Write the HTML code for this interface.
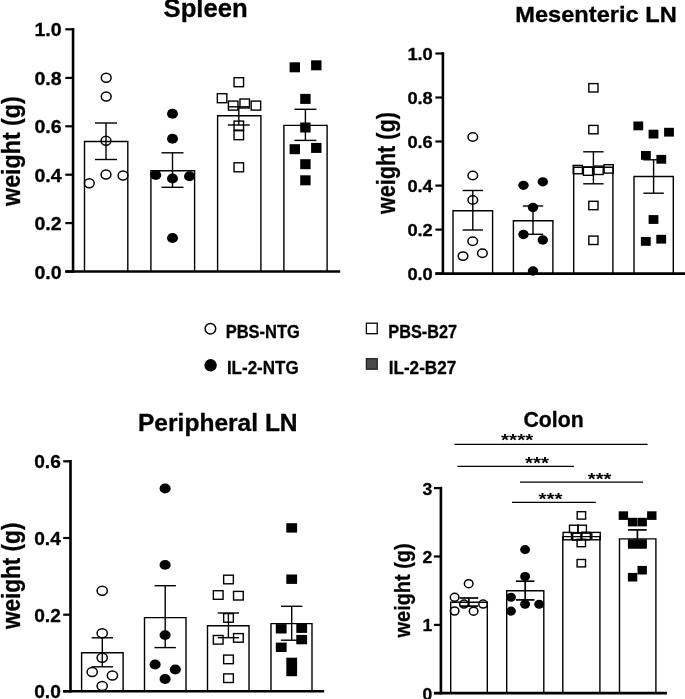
<!DOCTYPE html>
<html><head><meta charset="utf-8"><title>Organ weights</title>
<style>
html,body{margin:0;padding:0;background:#fff;}
body{width:685px;height:699px;overflow:hidden;font-family:"Liberation Sans",sans-serif;}
svg{display:block;will-change:transform;opacity:0.999;}
</style></head><body>
<svg width="685" height="699" viewBox="0 0 685 699">
<rect x="0" y="0" width="685" height="699" fill="#fff"/>
<path d="M84.5,271.5 V141.5 H127.8 V271.5" fill="#fff" stroke="#000" stroke-width="1.4"/>
<path d="M150.9,271.5 V170.8 H194.6 V271.5" fill="#fff" stroke="#000" stroke-width="1.4"/>
<path d="M217.6,271.5 V115.8 H260.9 V271.5" fill="#fff" stroke="#000" stroke-width="1.4"/>
<path d="M283.9,271.5 V125.4 H327.1 V271.5" fill="#fff" stroke="#000" stroke-width="1.4"/>
<line x1="106" y1="123" x2="106" y2="159.5" stroke="#000" stroke-width="1.4" stroke-linecap="butt"/>
<line x1="95" y1="123" x2="117" y2="123" stroke="#000" stroke-width="1.4" stroke-linecap="butt"/>
<line x1="95" y1="159.5" x2="117" y2="159.5" stroke="#000" stroke-width="1.4" stroke-linecap="butt"/>
<line x1="172.5" y1="152.8" x2="172.5" y2="187.3" stroke="#000" stroke-width="1.4" stroke-linecap="butt"/>
<line x1="161.5" y1="152.8" x2="183.5" y2="152.8" stroke="#000" stroke-width="1.4" stroke-linecap="butt"/>
<line x1="161.5" y1="187.3" x2="183.5" y2="187.3" stroke="#000" stroke-width="1.4" stroke-linecap="butt"/>
<line x1="238.8" y1="106.8" x2="238.8" y2="125" stroke="#000" stroke-width="1.4" stroke-linecap="butt"/>
<line x1="227.8" y1="106.8" x2="249.8" y2="106.8" stroke="#000" stroke-width="1.4" stroke-linecap="butt"/>
<line x1="227.8" y1="125" x2="249.8" y2="125" stroke="#000" stroke-width="1.4" stroke-linecap="butt"/>
<line x1="305.4" y1="109.3" x2="305.4" y2="140.4" stroke="#000" stroke-width="1.4" stroke-linecap="butt"/>
<line x1="294.4" y1="109.3" x2="316.4" y2="109.3" stroke="#000" stroke-width="1.4" stroke-linecap="butt"/>
<line x1="294.4" y1="140.4" x2="316.4" y2="140.4" stroke="#000" stroke-width="1.4" stroke-linecap="butt"/>
<ellipse cx="106.2" cy="77.8" rx="4.9" ry="4.5" fill="none" stroke="#000" stroke-width="1.5"/>
<ellipse cx="106.2" cy="96.5" rx="4.9" ry="4.5" fill="none" stroke="#000" stroke-width="1.5"/>
<ellipse cx="106" cy="140.8" rx="4.9" ry="4.5" fill="none" stroke="#000" stroke-width="1.5"/>
<ellipse cx="106" cy="174.5" rx="4.9" ry="4.5" fill="none" stroke="#000" stroke-width="1.5"/>
<ellipse cx="123" cy="175.5" rx="4.9" ry="4.5" fill="none" stroke="#000" stroke-width="1.5"/>
<ellipse cx="89.3" cy="183.3" rx="4.9" ry="4.5" fill="none" stroke="#000" stroke-width="1.5"/>
<ellipse cx="172.5" cy="113.8" rx="5.5" ry="5.05" fill="#000"/>
<ellipse cx="172.5" cy="138.8" rx="5.5" ry="5.05" fill="#000"/>
<ellipse cx="155.8" cy="175" rx="5.5" ry="5.05" fill="#000"/>
<ellipse cx="172.5" cy="178.5" rx="5.5" ry="5.05" fill="#000"/>
<ellipse cx="189.5" cy="176.3" rx="5.5" ry="5.05" fill="#000"/>
<ellipse cx="172.5" cy="238" rx="5.5" ry="5.05" fill="#000"/>
<rect x="234.05" y="77.7" width="9.5" height="9.0" fill="none" stroke="#000" stroke-width="1.4"/>
<rect x="217.35" y="93.7" width="9.5" height="9.0" fill="none" stroke="#000" stroke-width="1.4"/>
<rect x="228.45" y="101.1" width="9.5" height="9.0" fill="none" stroke="#000" stroke-width="1.4"/>
<rect x="239.95" y="99.0" width="9.5" height="9.0" fill="none" stroke="#000" stroke-width="1.4"/>
<rect x="251.15" y="101.1" width="9.5" height="9.0" fill="none" stroke="#000" stroke-width="1.4"/>
<rect x="234.05" y="121.1" width="9.5" height="9.0" fill="none" stroke="#000" stroke-width="1.4"/>
<rect x="234.05" y="130.7" width="9.5" height="9.0" fill="none" stroke="#000" stroke-width="1.4"/>
<rect x="234.05" y="162.8" width="9.5" height="9.0" fill="none" stroke="#000" stroke-width="1.4"/>
<rect x="289.6" y="62.3" width="10.4" height="10" fill="#000" stroke="#000" stroke-width="0"/>
<rect x="311.1" y="60.3" width="10.4" height="10" fill="#000" stroke="#000" stroke-width="0"/>
<rect x="300.2" y="93.9" width="10.4" height="10" fill="#000" stroke="#000" stroke-width="0"/>
<rect x="300.2" y="122.5" width="10.4" height="10" fill="#000" stroke="#000" stroke-width="0"/>
<rect x="289.6" y="144.2" width="10.4" height="10" fill="#000" stroke="#000" stroke-width="0"/>
<rect x="311.1" y="142.9" width="10.4" height="10" fill="#000" stroke="#000" stroke-width="0"/>
<rect x="300.2" y="159.2" width="10.4" height="10" fill="#000" stroke="#000" stroke-width="0"/>
<rect x="300.2" y="175.3" width="10.4" height="10" fill="#000" stroke="#000" stroke-width="0"/>
<line x1="73.05" y1="28.0" x2="73.05" y2="272.8" stroke="#000" stroke-width="2.6" stroke-linecap="butt"/>
<line x1="65.3" y1="271.5" x2="340.2" y2="271.5" stroke="#000" stroke-width="2.6" stroke-linecap="butt"/>
<line x1="65.3" y1="29.3" x2="73.05" y2="29.3" stroke="#000" stroke-width="2.2" stroke-linecap="butt"/>
<text x="34.4" y="36.3946" font-size="18.7" font-family="Liberation Sans, sans-serif" font-weight="bold" stroke="#000" stroke-width="0.3" stroke-linejoin="round" text-anchor="start" fill="#000" textLength="27.2" lengthAdjust="spacingAndGlyphs" >1.0</text>
<line x1="65.3" y1="77.9" x2="73.05" y2="77.9" stroke="#000" stroke-width="2.2" stroke-linecap="butt"/>
<text x="34.4" y="84.9946" font-size="18.7" font-family="Liberation Sans, sans-serif" font-weight="bold" stroke="#000" stroke-width="0.3" stroke-linejoin="round" text-anchor="start" fill="#000" textLength="27.2" lengthAdjust="spacingAndGlyphs" >0.8</text>
<line x1="65.3" y1="126.3" x2="73.05" y2="126.3" stroke="#000" stroke-width="2.2" stroke-linecap="butt"/>
<text x="34.4" y="133.3946" font-size="18.7" font-family="Liberation Sans, sans-serif" font-weight="bold" stroke="#000" stroke-width="0.3" stroke-linejoin="round" text-anchor="start" fill="#000" textLength="27.2" lengthAdjust="spacingAndGlyphs" >0.6</text>
<line x1="65.3" y1="174.7" x2="73.05" y2="174.7" stroke="#000" stroke-width="2.2" stroke-linecap="butt"/>
<text x="34.4" y="181.7946" font-size="18.7" font-family="Liberation Sans, sans-serif" font-weight="bold" stroke="#000" stroke-width="0.3" stroke-linejoin="round" text-anchor="start" fill="#000" textLength="27.2" lengthAdjust="spacingAndGlyphs" >0.4</text>
<line x1="65.3" y1="223.1" x2="73.05" y2="223.1" stroke="#000" stroke-width="2.2" stroke-linecap="butt"/>
<text x="34.4" y="230.1946" font-size="18.7" font-family="Liberation Sans, sans-serif" font-weight="bold" stroke="#000" stroke-width="0.3" stroke-linejoin="round" text-anchor="start" fill="#000" textLength="27.2" lengthAdjust="spacingAndGlyphs" >0.2</text>
<line x1="65.3" y1="271.5" x2="73.05" y2="271.5" stroke="#000" stroke-width="2.2" stroke-linecap="butt"/>
<text x="34.4" y="278.59459999999996" font-size="18.7" font-family="Liberation Sans, sans-serif" font-weight="bold" stroke="#000" stroke-width="0.3" stroke-linejoin="round" text-anchor="start" fill="#000" textLength="27.2" lengthAdjust="spacingAndGlyphs" >0.0</text>
<text transform="translate(19.9,205.9) rotate(-90)" font-size="25.8" font-family="Liberation Sans, sans-serif" font-weight="bold" stroke="#000" stroke-width="0.3" stroke-linejoin="round" textLength="109.6" lengthAdjust="spacingAndGlyphs">weight (g)</text>
<text x="163.5" y="16.9" font-size="25" font-family="Liberation Sans, sans-serif" font-weight="bold" stroke="#000" stroke-width="0.3" stroke-linejoin="round" text-anchor="start" fill="#000" textLength="84.3" lengthAdjust="spacingAndGlyphs" >Spleen</text>
<path d="M453,273.6 V210.8 H492.6 V273.6" fill="#fff" stroke="#000" stroke-width="1.4"/>
<path d="M513.4,273.6 V220.8 H552.9 V273.6" fill="#fff" stroke="#000" stroke-width="1.4"/>
<path d="M573.7,273.6 V167.2 H612.9 V273.6" fill="#fff" stroke="#000" stroke-width="1.4"/>
<path d="M634,273.6 V176.5 H673.3 V273.6" fill="#fff" stroke="#000" stroke-width="1.4"/>
<line x1="472.8" y1="190.5" x2="472.8" y2="230" stroke="#000" stroke-width="1.4" stroke-linecap="butt"/>
<line x1="462.6" y1="190.5" x2="483.0" y2="190.5" stroke="#000" stroke-width="1.4" stroke-linecap="butt"/>
<line x1="462.6" y1="230" x2="483.0" y2="230" stroke="#000" stroke-width="1.4" stroke-linecap="butt"/>
<line x1="533" y1="206" x2="533" y2="234.3" stroke="#000" stroke-width="1.4" stroke-linecap="butt"/>
<line x1="522.8" y1="206" x2="543.2" y2="206" stroke="#000" stroke-width="1.4" stroke-linecap="butt"/>
<line x1="522.8" y1="234.3" x2="543.2" y2="234.3" stroke="#000" stroke-width="1.4" stroke-linecap="butt"/>
<line x1="593.4" y1="151.8" x2="593.4" y2="183.8" stroke="#000" stroke-width="1.4" stroke-linecap="butt"/>
<line x1="583.1999999999999" y1="151.8" x2="603.6" y2="151.8" stroke="#000" stroke-width="1.4" stroke-linecap="butt"/>
<line x1="583.1999999999999" y1="183.8" x2="603.6" y2="183.8" stroke="#000" stroke-width="1.4" stroke-linecap="butt"/>
<line x1="653.6" y1="159.8" x2="653.6" y2="193.2" stroke="#000" stroke-width="1.4" stroke-linecap="butt"/>
<line x1="643.4" y1="159.8" x2="663.8000000000001" y2="159.8" stroke="#000" stroke-width="1.4" stroke-linecap="butt"/>
<line x1="643.4" y1="193.2" x2="663.8000000000001" y2="193.2" stroke="#000" stroke-width="1.4" stroke-linecap="butt"/>
<ellipse cx="472.8" cy="137" rx="4.8" ry="4.2" fill="none" stroke="#000" stroke-width="1.5"/>
<ellipse cx="472.8" cy="175.5" rx="4.8" ry="4.2" fill="none" stroke="#000" stroke-width="1.5"/>
<ellipse cx="472.8" cy="200" rx="4.8" ry="4.2" fill="none" stroke="#000" stroke-width="1.5"/>
<ellipse cx="472.7" cy="241.2" rx="4.8" ry="4.2" fill="none" stroke="#000" stroke-width="1.5"/>
<ellipse cx="463" cy="256.1" rx="4.8" ry="4.2" fill="none" stroke="#000" stroke-width="1.5"/>
<ellipse cx="482.4" cy="253.2" rx="4.8" ry="4.2" fill="none" stroke="#000" stroke-width="1.5"/>
<ellipse cx="523.5" cy="185.3" rx="5.2" ry="4.65" fill="#000"/>
<ellipse cx="542.8" cy="181.8" rx="5.2" ry="4.65" fill="#000"/>
<ellipse cx="533" cy="207.5" rx="5.2" ry="4.65" fill="#000"/>
<ellipse cx="523.5" cy="234.5" rx="5.2" ry="4.65" fill="#000"/>
<ellipse cx="542.8" cy="240" rx="5.2" ry="4.65" fill="#000"/>
<ellipse cx="533" cy="271" rx="5.2" ry="4.65" fill="#000"/>
<rect x="588.8" y="83.6" width="9.2" height="8.4" fill="none" stroke="#000" stroke-width="1.4"/>
<rect x="588.8" y="125.4" width="9.2" height="8.4" fill="none" stroke="#000" stroke-width="1.4"/>
<rect x="573.2" y="165.4" width="9.2" height="8.4" fill="none" stroke="#000" stroke-width="1.4"/>
<rect x="583.4" y="166.9" width="9.2" height="8.4" fill="none" stroke="#000" stroke-width="1.4"/>
<rect x="594.0" y="166.1" width="9.2" height="8.4" fill="none" stroke="#000" stroke-width="1.4"/>
<rect x="604.1" y="164.7" width="9.2" height="8.4" fill="none" stroke="#000" stroke-width="1.4"/>
<rect x="588.8" y="201.3" width="9.2" height="8.4" fill="none" stroke="#000" stroke-width="1.4"/>
<rect x="588.8" y="236.1" width="9.2" height="8.4" fill="none" stroke="#000" stroke-width="1.4"/>
<rect x="633.4" y="121.5" width="9.8" height="8.8" fill="#000" stroke="#000" stroke-width="0"/>
<rect x="648.6" y="129.7" width="9.8" height="8.8" fill="#000" stroke="#000" stroke-width="0"/>
<rect x="664.1" y="127.8" width="9.8" height="8.8" fill="#000" stroke="#000" stroke-width="0"/>
<rect x="641.0" y="151.0" width="9.8" height="8.8" fill="#000" stroke="#000" stroke-width="0"/>
<rect x="656.4" y="154.9" width="9.8" height="8.8" fill="#000" stroke="#000" stroke-width="0"/>
<rect x="648.6" y="215.1" width="9.8" height="8.8" fill="#000" stroke="#000" stroke-width="0"/>
<rect x="640.9" y="237.0" width="9.8" height="8.8" fill="#000" stroke="#000" stroke-width="0"/>
<rect x="656.3" y="234.8" width="9.8" height="8.8" fill="#000" stroke="#000" stroke-width="0"/>
<line x1="442.9" y1="52.2" x2="442.9" y2="274.90000000000003" stroke="#000" stroke-width="2.6" stroke-linecap="butt"/>
<line x1="435.4" y1="273.6" x2="685" y2="273.6" stroke="#000" stroke-width="2.6" stroke-linecap="butt"/>
<line x1="435.4" y1="53.5" x2="442.9" y2="53.5" stroke="#000" stroke-width="2.2" stroke-linecap="butt"/>
<text x="407.4" y="60.2934" font-size="17.3" font-family="Liberation Sans, sans-serif" font-weight="bold" stroke="#000" stroke-width="0.3" stroke-linejoin="round" text-anchor="start" fill="#000" textLength="25.4" lengthAdjust="spacingAndGlyphs" >1.0</text>
<line x1="435.4" y1="97.5" x2="442.9" y2="97.5" stroke="#000" stroke-width="2.2" stroke-linecap="butt"/>
<text x="407.4" y="104.29339999999999" font-size="17.3" font-family="Liberation Sans, sans-serif" font-weight="bold" stroke="#000" stroke-width="0.3" stroke-linejoin="round" text-anchor="start" fill="#000" textLength="25.4" lengthAdjust="spacingAndGlyphs" >0.8</text>
<line x1="435.4" y1="141.5" x2="442.9" y2="141.5" stroke="#000" stroke-width="2.2" stroke-linecap="butt"/>
<text x="407.4" y="148.2934" font-size="17.3" font-family="Liberation Sans, sans-serif" font-weight="bold" stroke="#000" stroke-width="0.3" stroke-linejoin="round" text-anchor="start" fill="#000" textLength="25.4" lengthAdjust="spacingAndGlyphs" >0.6</text>
<line x1="435.4" y1="185.6" x2="442.9" y2="185.6" stroke="#000" stroke-width="2.2" stroke-linecap="butt"/>
<text x="407.4" y="192.39339999999999" font-size="17.3" font-family="Liberation Sans, sans-serif" font-weight="bold" stroke="#000" stroke-width="0.3" stroke-linejoin="round" text-anchor="start" fill="#000" textLength="25.4" lengthAdjust="spacingAndGlyphs" >0.4</text>
<line x1="435.4" y1="229.6" x2="442.9" y2="229.6" stroke="#000" stroke-width="2.2" stroke-linecap="butt"/>
<text x="407.4" y="236.39339999999999" font-size="17.3" font-family="Liberation Sans, sans-serif" font-weight="bold" stroke="#000" stroke-width="0.3" stroke-linejoin="round" text-anchor="start" fill="#000" textLength="25.4" lengthAdjust="spacingAndGlyphs" >0.2</text>
<line x1="435.4" y1="273.6" x2="442.9" y2="273.6" stroke="#000" stroke-width="2.2" stroke-linecap="butt"/>
<text x="407.4" y="280.39340000000004" font-size="17.3" font-family="Liberation Sans, sans-serif" font-weight="bold" stroke="#000" stroke-width="0.3" stroke-linejoin="round" text-anchor="start" fill="#000" textLength="25.4" lengthAdjust="spacingAndGlyphs" >0.0</text>
<text transform="translate(395.3,214.1) rotate(-90)" font-size="25.6" font-family="Liberation Sans, sans-serif" font-weight="bold" stroke="#000" stroke-width="0.3" stroke-linejoin="round" textLength="102" lengthAdjust="spacingAndGlyphs">weight (g)</text>
<text x="515.2" y="22.2" font-size="21.7" font-family="Liberation Sans, sans-serif" font-weight="bold" stroke="#000" stroke-width="0.3" stroke-linejoin="round" text-anchor="start" fill="#000" textLength="161.6" lengthAdjust="spacingAndGlyphs" >Mesenteric LN</text>
<path d="M81.6,691.3 V652.8 H123.1 V691.3" fill="#fff" stroke="#000" stroke-width="1.4"/>
<path d="M144.5,691.3 V617.6 H186 V691.3" fill="#fff" stroke="#000" stroke-width="1.4"/>
<path d="M207.5,691.3 V625.7 H249 V691.3" fill="#fff" stroke="#000" stroke-width="1.4"/>
<path d="M271,691.3 V623.6 H312 V691.3" fill="#fff" stroke="#000" stroke-width="1.4"/>
<line x1="102.3" y1="637.8" x2="102.3" y2="666.8" stroke="#000" stroke-width="1.4" stroke-linecap="butt"/>
<line x1="91.6" y1="637.8" x2="113.0" y2="637.8" stroke="#000" stroke-width="1.4" stroke-linecap="butt"/>
<line x1="91.6" y1="666.8" x2="113.0" y2="666.8" stroke="#000" stroke-width="1.4" stroke-linecap="butt"/>
<line x1="165.2" y1="585.7" x2="165.2" y2="647.6" stroke="#000" stroke-width="1.4" stroke-linecap="butt"/>
<line x1="154.5" y1="585.7" x2="175.89999999999998" y2="585.7" stroke="#000" stroke-width="1.4" stroke-linecap="butt"/>
<line x1="154.5" y1="647.6" x2="175.89999999999998" y2="647.6" stroke="#000" stroke-width="1.4" stroke-linecap="butt"/>
<line x1="228.4" y1="613" x2="228.4" y2="637.7" stroke="#000" stroke-width="1.4" stroke-linecap="butt"/>
<line x1="217.70000000000002" y1="613" x2="239.1" y2="613" stroke="#000" stroke-width="1.4" stroke-linecap="butt"/>
<line x1="217.70000000000002" y1="637.7" x2="239.1" y2="637.7" stroke="#000" stroke-width="1.4" stroke-linecap="butt"/>
<line x1="291.7" y1="606.3" x2="291.7" y2="640.2" stroke="#000" stroke-width="1.4" stroke-linecap="butt"/>
<line x1="281.0" y1="606.3" x2="302.4" y2="606.3" stroke="#000" stroke-width="1.4" stroke-linecap="butt"/>
<line x1="281.0" y1="640.2" x2="302.4" y2="640.2" stroke="#000" stroke-width="1.4" stroke-linecap="butt"/>
<ellipse cx="102.2" cy="590.7" rx="5.1" ry="4.5" fill="none" stroke="#000" stroke-width="1.5"/>
<ellipse cx="102.2" cy="633.3" rx="5.1" ry="4.5" fill="none" stroke="#000" stroke-width="1.5"/>
<ellipse cx="102.2" cy="657.8" rx="5.1" ry="4.5" fill="none" stroke="#000" stroke-width="1.5"/>
<ellipse cx="92.2" cy="672" rx="5.1" ry="4.5" fill="none" stroke="#000" stroke-width="1.5"/>
<ellipse cx="112.4" cy="675.5" rx="5.1" ry="4.5" fill="none" stroke="#000" stroke-width="1.5"/>
<ellipse cx="102.2" cy="686" rx="5.1" ry="4.5" fill="none" stroke="#000" stroke-width="1.5"/>
<ellipse cx="165.1" cy="488.5" rx="5.55" ry="4.9" fill="#000"/>
<ellipse cx="165.1" cy="564.9" rx="5.55" ry="4.9" fill="#000"/>
<ellipse cx="165.1" cy="635.1" rx="5.55" ry="4.9" fill="#000"/>
<ellipse cx="155.1" cy="664.5" rx="5.55" ry="4.9" fill="#000"/>
<ellipse cx="175.3" cy="669.5" rx="5.55" ry="4.9" fill="#000"/>
<ellipse cx="165.1" cy="679" rx="5.55" ry="4.9" fill="#000"/>
<rect x="223.65" y="575.2" width="9.7" height="8.6" fill="none" stroke="#000" stroke-width="1.4"/>
<rect x="213.35" y="590.7" width="9.7" height="8.6" fill="none" stroke="#000" stroke-width="1.4"/>
<rect x="233.55" y="591.4" width="9.7" height="8.6" fill="none" stroke="#000" stroke-width="1.4"/>
<rect x="223.65" y="613.6" width="9.7" height="8.6" fill="none" stroke="#000" stroke-width="1.4"/>
<rect x="213.35" y="635.5" width="9.7" height="8.6" fill="none" stroke="#000" stroke-width="1.4"/>
<rect x="233.55" y="633.6" width="9.7" height="8.6" fill="none" stroke="#000" stroke-width="1.4"/>
<rect x="223.65" y="655.1" width="9.7" height="8.6" fill="none" stroke="#000" stroke-width="1.4"/>
<rect x="223.65" y="673.9" width="9.7" height="8.6" fill="none" stroke="#000" stroke-width="1.4"/>
<rect x="286.3" y="523.2" width="10.8" height="9.4" fill="#000" stroke="#000" stroke-width="0"/>
<rect x="286.3" y="574.5" width="10.8" height="9.4" fill="#000" stroke="#000" stroke-width="0"/>
<rect x="275.8" y="624.1" width="10.8" height="9.4" fill="#000" stroke="#000" stroke-width="0"/>
<rect x="296.3" y="623.5" width="10.8" height="9.4" fill="#000" stroke="#000" stroke-width="0"/>
<rect x="296.3" y="634.9" width="10.8" height="9.4" fill="#000" stroke="#000" stroke-width="0"/>
<rect x="275.8" y="642.6" width="10.8" height="9.4" fill="#000" stroke="#000" stroke-width="0"/>
<rect x="286.3" y="657.7" width="10.8" height="9.4" fill="#000" stroke="#000" stroke-width="0"/>
<rect x="286.3" y="666.8" width="10.8" height="9.4" fill="#000" stroke="#000" stroke-width="0"/>
<line x1="70.5" y1="460.0" x2="70.5" y2="692.5999999999999" stroke="#000" stroke-width="2.6" stroke-linecap="butt"/>
<line x1="63.2" y1="691.3" x2="324.2" y2="691.3" stroke="#000" stroke-width="2.6" stroke-linecap="butt"/>
<line x1="63.2" y1="461.3" x2="70.5" y2="461.3" stroke="#000" stroke-width="2.2" stroke-linecap="butt"/>
<text x="34.2" y="468.1946" font-size="18.7" font-family="Liberation Sans, sans-serif" font-weight="bold" stroke="#000" stroke-width="0.3" stroke-linejoin="round" text-anchor="start" fill="#000" textLength="26.6" lengthAdjust="spacingAndGlyphs" >0.6</text>
<line x1="63.2" y1="538" x2="70.5" y2="538" stroke="#000" stroke-width="2.2" stroke-linecap="butt"/>
<text x="34.2" y="544.8946000000001" font-size="18.7" font-family="Liberation Sans, sans-serif" font-weight="bold" stroke="#000" stroke-width="0.3" stroke-linejoin="round" text-anchor="start" fill="#000" textLength="26.6" lengthAdjust="spacingAndGlyphs" >0.4</text>
<line x1="63.2" y1="614.7" x2="70.5" y2="614.7" stroke="#000" stroke-width="2.2" stroke-linecap="butt"/>
<text x="34.2" y="621.5946000000001" font-size="18.7" font-family="Liberation Sans, sans-serif" font-weight="bold" stroke="#000" stroke-width="0.3" stroke-linejoin="round" text-anchor="start" fill="#000" textLength="26.6" lengthAdjust="spacingAndGlyphs" >0.2</text>
<line x1="63.2" y1="691.3" x2="70.5" y2="691.3" stroke="#000" stroke-width="2.2" stroke-linecap="butt"/>
<text x="34.2" y="698.1946" font-size="18.7" font-family="Liberation Sans, sans-serif" font-weight="bold" stroke="#000" stroke-width="0.3" stroke-linejoin="round" text-anchor="start" fill="#000" textLength="26.6" lengthAdjust="spacingAndGlyphs" >0.0</text>
<text transform="translate(19.9,629.1) rotate(-90)" font-size="25.4" font-family="Liberation Sans, sans-serif" font-weight="bold" stroke="#000" stroke-width="0.3" stroke-linejoin="round" textLength="106.5" lengthAdjust="spacingAndGlyphs">weight (g)</text>
<text x="138" y="430.7" font-size="23.2" font-family="Liberation Sans, sans-serif" font-weight="bold" stroke="#000" stroke-width="0.3" stroke-linejoin="round" text-anchor="start" fill="#000" textLength="159.6" lengthAdjust="spacingAndGlyphs" >Peripheral LN</text>
<path d="M450.7,693.1 V602.2 H487.3 V693.1" fill="#fff" stroke="#000" stroke-width="1.4"/>
<path d="M506.7,693.1 V590.8 H543.8 V693.1" fill="#fff" stroke="#000" stroke-width="1.4"/>
<path d="M562.8,693.1 V536.6 H599.9 V693.1" fill="#fff" stroke="#000" stroke-width="1.4"/>
<path d="M619.5,693.1 V538.9 H655.9 V693.1" fill="#fff" stroke="#000" stroke-width="1.4"/>
<line x1="468.9" y1="598" x2="468.9" y2="606.1" stroke="#000" stroke-width="1.7" stroke-linecap="butt"/>
<line x1="459.59999999999997" y1="598" x2="478.2" y2="598" stroke="#000" stroke-width="1.7" stroke-linecap="butt"/>
<line x1="459.59999999999997" y1="606.1" x2="478.2" y2="606.1" stroke="#000" stroke-width="1.7" stroke-linecap="butt"/>
<line x1="525.2" y1="581.2" x2="525.2" y2="599.9" stroke="#000" stroke-width="1.7" stroke-linecap="butt"/>
<line x1="515.9000000000001" y1="581.2" x2="534.5" y2="581.2" stroke="#000" stroke-width="1.7" stroke-linecap="butt"/>
<line x1="515.9000000000001" y1="599.9" x2="534.5" y2="599.9" stroke="#000" stroke-width="1.7" stroke-linecap="butt"/>
<line x1="581.3" y1="533.2" x2="581.3" y2="540" stroke="#000" stroke-width="1.3" stroke-linecap="butt"/>
<line x1="572.0" y1="533.2" x2="590.5999999999999" y2="533.2" stroke="#000" stroke-width="1.3" stroke-linecap="butt"/>
<line x1="572.0" y1="540" x2="590.5999999999999" y2="540" stroke="#000" stroke-width="1.3" stroke-linecap="butt"/>
<line x1="637.4" y1="529.9" x2="637.4" y2="547.9" stroke="#000" stroke-width="1.7" stroke-linecap="butt"/>
<line x1="628.1" y1="529.9" x2="646.6999999999999" y2="529.9" stroke="#000" stroke-width="1.7" stroke-linecap="butt"/>
<line x1="628.1" y1="547.9" x2="646.6999999999999" y2="547.9" stroke="#000" stroke-width="1.7" stroke-linecap="butt"/>
<ellipse cx="468.7" cy="583.7" rx="4.3" ry="4.0" fill="none" stroke="#000" stroke-width="1.5"/>
<ellipse cx="454.6" cy="597.3" rx="4.3" ry="4.0" fill="none" stroke="#000" stroke-width="1.5"/>
<ellipse cx="464" cy="604.1" rx="4.3" ry="4.0" fill="none" stroke="#000" stroke-width="1.5"/>
<ellipse cx="483.1" cy="604.1" rx="4.3" ry="4.0" fill="none" stroke="#000" stroke-width="1.5"/>
<ellipse cx="454.6" cy="611" rx="4.3" ry="4.0" fill="none" stroke="#000" stroke-width="1.5"/>
<ellipse cx="473.6" cy="611.2" rx="4.3" ry="4.0" fill="none" stroke="#000" stroke-width="1.5"/>
<ellipse cx="525.1" cy="549.6" rx="4.95" ry="4.53" fill="#000"/>
<ellipse cx="525.1" cy="576.5" rx="4.95" ry="4.53" fill="#000"/>
<ellipse cx="511" cy="597.2" rx="4.95" ry="4.53" fill="#000"/>
<ellipse cx="525.1" cy="604.2" rx="4.95" ry="4.53" fill="#000"/>
<ellipse cx="539.2" cy="604.2" rx="4.95" ry="4.53" fill="#000"/>
<ellipse cx="511" cy="611.1" rx="4.95" ry="4.53" fill="#000"/>
<rect x="577.2" y="511.7" width="8.4" height="7.4" fill="none" stroke="#000" stroke-width="1.4"/>
<rect x="569.5" y="525.2" width="8.4" height="7.4" fill="none" stroke="#000" stroke-width="1.4"/>
<rect x="578.0" y="525.2" width="8.4" height="7.4" fill="none" stroke="#000" stroke-width="1.4"/>
<rect x="563.1" y="532.4" width="8.4" height="7.4" fill="none" stroke="#000" stroke-width="1.4"/>
<rect x="572.7" y="532.7" width="8.4" height="7.4" fill="none" stroke="#000" stroke-width="1.4"/>
<rect x="581.9" y="532.2" width="8.4" height="7.4" fill="none" stroke="#000" stroke-width="1.4"/>
<rect x="591.8" y="532.4" width="8.4" height="7.4" fill="none" stroke="#000" stroke-width="1.4"/>
<rect x="577.1" y="539.3" width="8.4" height="7.4" fill="none" stroke="#000" stroke-width="1.4"/>
<rect x="577.1" y="559.5" width="8.4" height="7.4" fill="none" stroke="#000" stroke-width="1.4"/>
<rect x="618.7" y="511.3" width="9.4" height="8.6" fill="#000" stroke="#000" stroke-width="0"/>
<rect x="647.1" y="511.3" width="9.4" height="8.6" fill="#000" stroke="#000" stroke-width="0"/>
<rect x="627.9" y="517.8" width="9.4" height="8.6" fill="#000" stroke="#000" stroke-width="0"/>
<rect x="637.5" y="517.8" width="9.4" height="8.6" fill="#000" stroke="#000" stroke-width="0"/>
<rect x="627.9" y="539.3" width="9.4" height="8.6" fill="#000" stroke="#000" stroke-width="0"/>
<rect x="637.5" y="539.3" width="9.4" height="8.6" fill="#000" stroke="#000" stroke-width="0"/>
<rect x="637.5" y="565.9" width="9.4" height="8.6" fill="#000" stroke="#000" stroke-width="0"/>
<rect x="627.9" y="572.9" width="9.4" height="8.6" fill="#000" stroke="#000" stroke-width="0"/>
<line x1="440.9" y1="486.8" x2="440.9" y2="694.4" stroke="#000" stroke-width="2.6" stroke-linecap="butt"/>
<line x1="433.9" y1="693.1" x2="666.9" y2="693.1" stroke="#000" stroke-width="2.6" stroke-linecap="butt"/>
<line x1="433.9" y1="488.1" x2="440.9" y2="488.1" stroke="#000" stroke-width="2.2" stroke-linecap="butt"/>
<text x="422.4" y="494.61440000000005" font-size="16.8" font-family="Liberation Sans, sans-serif" font-weight="bold" stroke="#000" stroke-width="0.3" stroke-linejoin="round" text-anchor="start" fill="#000" textLength="9.8" lengthAdjust="spacingAndGlyphs" >3</text>
<line x1="433.9" y1="556.5" x2="440.9" y2="556.5" stroke="#000" stroke-width="2.2" stroke-linecap="butt"/>
<text x="422.4" y="563.0144" font-size="16.8" font-family="Liberation Sans, sans-serif" font-weight="bold" stroke="#000" stroke-width="0.3" stroke-linejoin="round" text-anchor="start" fill="#000" textLength="9.8" lengthAdjust="spacingAndGlyphs" >2</text>
<line x1="433.9" y1="624.9" x2="440.9" y2="624.9" stroke="#000" stroke-width="2.2" stroke-linecap="butt"/>
<text x="422.4" y="631.4144" font-size="16.8" font-family="Liberation Sans, sans-serif" font-weight="bold" stroke="#000" stroke-width="0.3" stroke-linejoin="round" text-anchor="start" fill="#000" textLength="9.8" lengthAdjust="spacingAndGlyphs" >1</text>
<line x1="433.9" y1="693.1" x2="440.9" y2="693.1" stroke="#000" stroke-width="2.2" stroke-linecap="butt"/>
<text x="422.4" y="699.6144" font-size="16.8" font-family="Liberation Sans, sans-serif" font-weight="bold" stroke="#000" stroke-width="0.3" stroke-linejoin="round" text-anchor="start" fill="#000" textLength="9.8" lengthAdjust="spacingAndGlyphs" >0</text>
<text transform="translate(409.5,637.4) rotate(-90)" font-size="22.8" font-family="Liberation Sans, sans-serif" font-weight="bold" stroke="#000" stroke-width="0.3" stroke-linejoin="round" textLength="94" lengthAdjust="spacingAndGlyphs">weight (g)</text>
<text x="523.5" y="426.7" font-size="21.3" font-family="Liberation Sans, sans-serif" font-weight="bold" stroke="#000" stroke-width="0.3" stroke-linejoin="round" text-anchor="start" fill="#000" textLength="60.2" lengthAdjust="spacingAndGlyphs" >Colon</text>
<line x1="454.4" y1="444.4" x2="647.6" y2="444.4" stroke="#000" stroke-width="1.25" stroke-linecap="butt"/>
<line x1="457.4" y1="466.3" x2="573.9" y2="466.3" stroke="#000" stroke-width="1.25" stroke-linecap="butt"/>
<line x1="520" y1="482.2" x2="643.1" y2="482.2" stroke="#000" stroke-width="1.25" stroke-linecap="butt"/>
<line x1="512" y1="502.4" x2="595.8" y2="502.4" stroke="#000" stroke-width="1.25" stroke-linecap="butt"/>
<text x="501.1" y="446.34" font-size="16.8" font-family="Liberation Sans, sans-serif" font-weight="bold" stroke="#000" stroke-width="0.3" stroke-linejoin="round" text-anchor="start" fill="#000" textLength="32.1" lengthAdjust="spacingAndGlyphs" style="stroke:none">****</text>
<text x="525.1" y="469.04" font-size="16.8" font-family="Liberation Sans, sans-serif" font-weight="bold" stroke="#000" stroke-width="0.3" stroke-linejoin="round" text-anchor="start" fill="#000" textLength="23.9" lengthAdjust="spacingAndGlyphs" style="stroke:none">***</text>
<text x="587.8" y="485.14" font-size="16.8" font-family="Liberation Sans, sans-serif" font-weight="bold" stroke="#000" stroke-width="0.3" stroke-linejoin="round" text-anchor="start" fill="#000" textLength="23.7" lengthAdjust="spacingAndGlyphs" style="stroke:none">***</text>
<text x="538.4" y="504.94" font-size="16.8" font-family="Liberation Sans, sans-serif" font-weight="bold" stroke="#000" stroke-width="0.3" stroke-linejoin="round" text-anchor="start" fill="#000" textLength="24.0" lengthAdjust="spacingAndGlyphs" style="stroke:none">***</text>
<circle cx="210.4" cy="328.7" r="5.3" fill="#fff" stroke="#000" stroke-width="1.5"/>
<circle cx="210.6" cy="365.3" r="6.2" fill="#000" stroke="#000" stroke-width="0"/>
<rect x="366.4" y="323.2" width="10.8" height="10.5" fill="#fff" stroke="#000" stroke-width="1.3"/>
<rect x="366.4" y="358.7" width="10.8" height="10.5" fill="#4a4a4a" stroke="#222" stroke-width="1.3"/>
<text x="225.7" y="337.8" font-size="18.2" font-family="Liberation Sans, sans-serif" font-weight="bold" stroke="#000" stroke-width="0.3" stroke-linejoin="round" text-anchor="start" fill="#000" textLength="74.2" lengthAdjust="spacingAndGlyphs" >PBS-NTG</text>
<text x="226.9" y="374.4" font-size="18.2" font-family="Liberation Sans, sans-serif" font-weight="bold" stroke="#000" stroke-width="0.3" stroke-linejoin="round" text-anchor="start" fill="#000" textLength="71.8" lengthAdjust="spacingAndGlyphs" >IL-2-NTG</text>
<text x="388.3" y="337.8" font-size="18.2" font-family="Liberation Sans, sans-serif" font-weight="bold" stroke="#000" stroke-width="0.3" stroke-linejoin="round" text-anchor="start" fill="#000" textLength="68.8" lengthAdjust="spacingAndGlyphs" >PBS-B27</text>
<text x="388.7" y="374.3" font-size="18.2" font-family="Liberation Sans, sans-serif" font-weight="bold" stroke="#000" stroke-width="0.3" stroke-linejoin="round" text-anchor="start" fill="#000" textLength="67.6" lengthAdjust="spacingAndGlyphs" >IL-2-B27</text>
</svg>
</body></html>
